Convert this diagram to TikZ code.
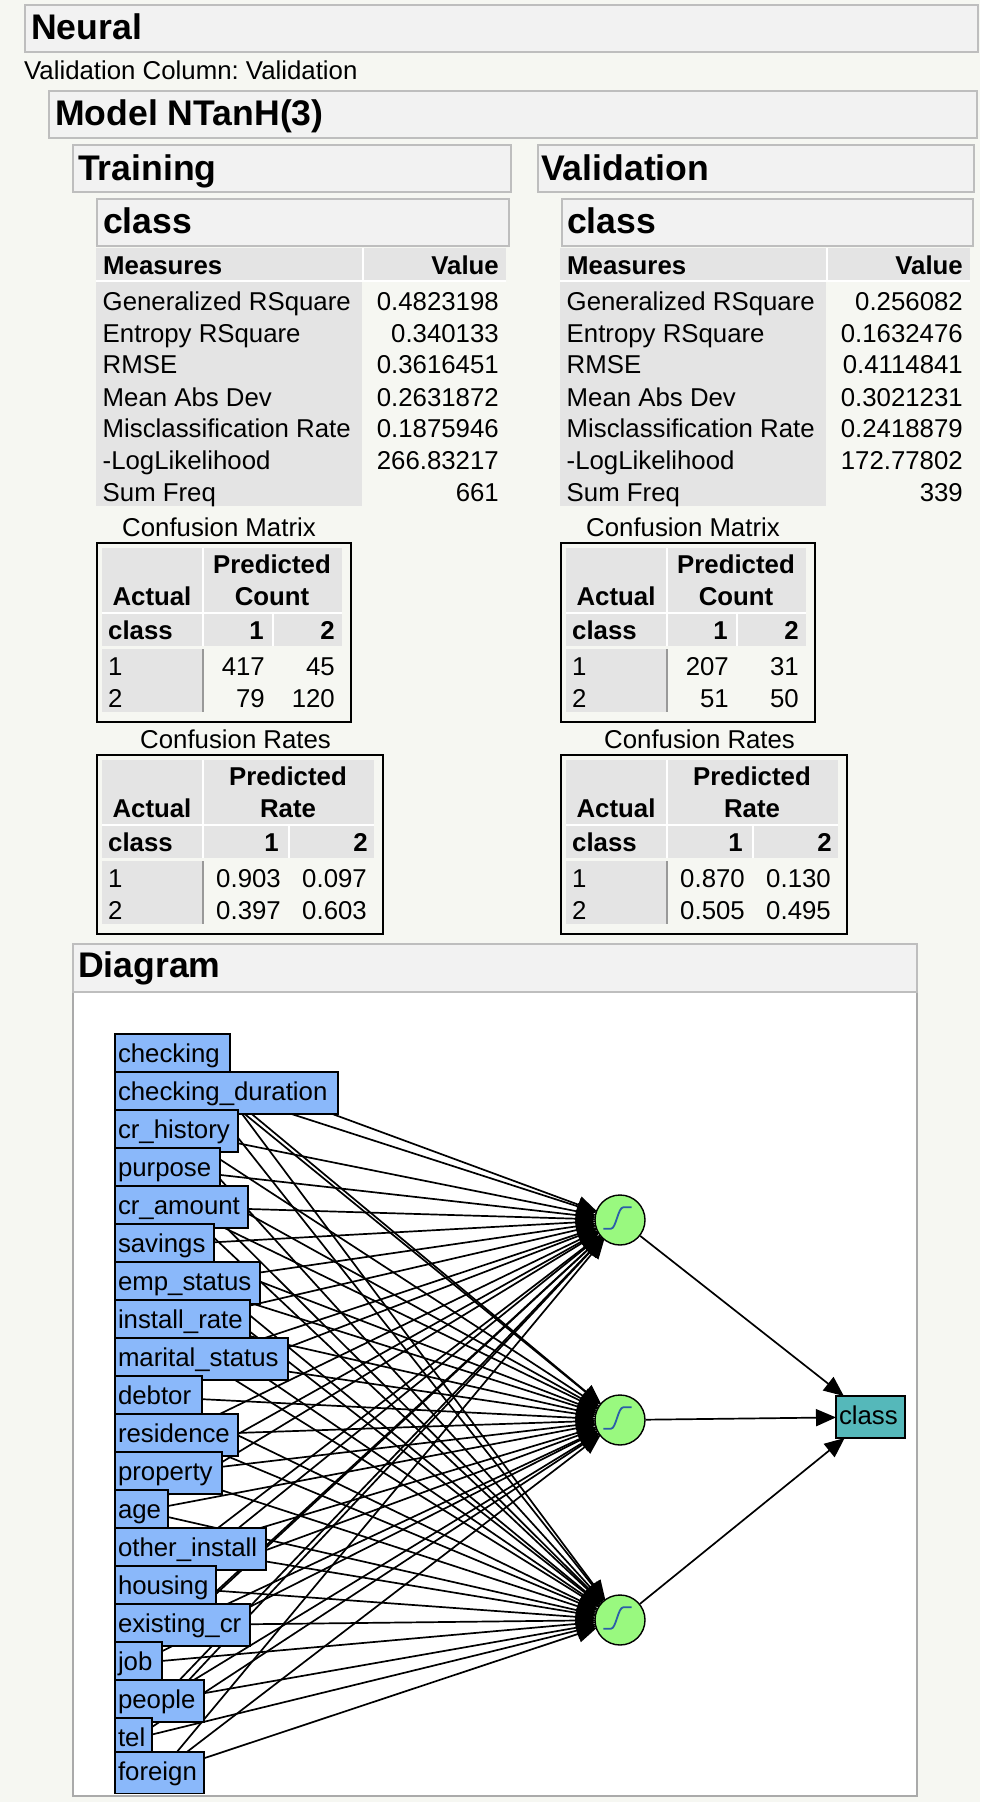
\documentclass[tikz,border=0pt]{standalone}
\usepackage{fontspec}
\setmainfont{Liberation Sans}
\usetikzlibrary{arrows.meta}
\pgfdeclarelayer{back}
\pgfdeclarelayer{edges}
\pgfsetlayers{back,edges,main}
\definecolor{pagebg}{HTML}{F6F7F2}
\definecolor{headfill}{HTML}{F2F2F2}
\definecolor{headline}{HTML}{BEBEBE}
\definecolor{cellgray}{HTML}{E4E4E4}
\definecolor{barline}{HTML}{999999}
\definecolor{framegray}{HTML}{AAAAAA}
\definecolor{inputblue}{HTML}{8AB8FA}
\definecolor{hiddengreen}{HTML}{99F97F}
\definecolor{outputteal}{HTML}{55B8BA}
\definecolor{curveblue}{HTML}{2B5EA8}
\newcommand{\bodyfont}{\fontsize{25.8}{30}\selectfont\frenchspacing}
\newcommand{\boldfont}{\fontsize{25.8}{30}\selectfont\bfseries}
\newcommand{\headfont}{\fontsize{35.6}{40}\selectfont\bfseries}
\tikzset{
  headbox/.style={draw=headline,fill=headfill,line width=2pt},
  cell/.style={fill=cellgray},
  lbl/.style={anchor=base west,inner sep=0pt,font=\bodyfont},
  val/.style={anchor=base east,inner sep=0pt,font=\bodyfont},
  boldl/.style={anchor=base west,inner sep=0pt,font=\boldfont},
  boldr/.style={anchor=base east,inner sep=0pt,font=\boldfont},
  boldc/.style={anchor=base,inner sep=0pt,font=\boldfont},
  headtext/.style={anchor=base west,inner sep=0pt,font=\headfont},
  blackbox/.style={draw=black,line width=2pt},
  vnode/.style={draw=black,line width=2pt,anchor=north west,align=left,font=\bodyfont,outer sep=0pt,
    inner xsep=3pt,inner ysep=0pt,text height=28pt,text depth=14pt},
  hidden/.style={circle,draw=black,line width=1.4pt,fill=hiddengreen,minimum size=50pt,inner sep=0pt},
  edge/.style={draw=black,line width=1.7pt,-{Triangle[length=20pt,width=17pt]}},
  sigcurve/.style={draw=curveblue,line width=1.8pt},
}
\newcommand{\MeasureTable}[9]{%
  \begin{scope}[xshift=#2pt]
    \fill[white] (96,280) rectangle (506,282);
    \fill[white] (362,248) rectangle (364,280);
    \fill[cell] (96,248) rectangle (362,280);
    \fill[cell] (364,248) rectangle (506,280);
    \fill[cell] (96,282) rectangle (362,506);
    \node[boldl] (#1-mh) at (103,274) {Measures};
    \node[boldr] (#1-vh) at (499,274) {Value};
    \foreach \rowid/\rowlab/\rowbase/\rowval in {a/Generalized RSquare/310/#3,b/Entropy RSquare/342/#4,c/RMSE/373/#5,d/Mean Abs Dev/406/#6,e/Misclassification Rate/437/#7,f/-LogLikelihood/469/#8,g/Sum Freq/501/#9}{
      \node[lbl] (#1-\rowid-l) at (102.5,\rowbase) {\rowlab};
      \node[val] (#1-\rowid-v) at (499,\rowbase) {\rowval};
    }
  \end{scope}}
\begin{document}
\begin{tikzpicture}[x=1pt,y=-1pt]
\useasboundingbox (0,0) rectangle (980,1802);
\begin{pgfonlayer}{back}
  \fill[pagebg] (0,0) rectangle (980,1802);
  \draw[headbox] (25,5) rectangle (978,52);
  \draw[headbox] (49,91) rectangle (977,138);
  \draw[headbox] (73,145) rectangle (511,192);
  \draw[headbox] (97,199) rectangle (509,246);
  \draw[headbox] (537.5,145) rectangle (974,192);
  \draw[headbox] (561.5,199) rectangle (973,246);
  \draw[draw=framegray,line width=2pt,fill=white] (73,992) rectangle (917,1796);
  \draw[headbox] (73,944) rectangle (917,992);
\end{pgfonlayer}

\node[headtext] (neural) at (31,39) {Neural};
\node[lbl] (valcol) at (24,79) {Validation Column: Validation};
\node[headtext] (model) at (55,125) {Model NTanH(3)};
\node[headtext] (training) at (78,180) {Training};
\node[headtext] (classT) at (103,233) {class};
\node[headtext] (validation) at (541,180) {Validation};
\node[headtext] (classV) at (567,233) {class};
\node[headtext] (diagram) at (78,977) {Diagram};

\MeasureTable{tr}{0}{0.4823198}{0.340133}{0.3616451}{0.2631872}{0.1875946}{266.83217}{661}
\MeasureTable{va}{464}{0.256082}{0.1632476}{0.4114841}{0.3021231}{0.2418879}{172.77802}{339}

% confusion tables
\foreach \pfx/\dxx/\dyy/\ttl/\tix/\boxr/\hdr/\splt/\ctr/\lone/\ltwo/\wordd/\cola/\colb/\vala/\valb/\valc/\vald in {
  tm/0/0/Confusion Matrix/122/352/342/272/272/264/335/Count/265/335/417/45/79/120,
  tq/0/212/Confusion Rates/140/384/374/288/288/279/368/Rate/281/367/0.903/0.097/0.397/0.603,
  vm/464/0/Confusion Matrix/122/352/342/272/272/264/335/Count/265/335/207/31/51/50,
  vq/464/212/Confusion Rates/140/384/374/288/288/279/368/Rate/281/367/0.870/0.130/0.505/0.495}{
  \begin{scope}[xshift=\dxx pt,yshift=-\dyy pt]
    \node[lbl] (\pfx-title) at (\tix,536) {\ttl};
    \draw[blackbox] (97,543) rectangle (\boxr-1,722);
    \fill[white] (202,548) rectangle (204,646);
    \fill[white] (102,612) rectangle (\hdr,614);
    \fill[white] (\splt,614) rectangle (\splt+2,646);
    \fill[cell] (102,548) rectangle (202,612);
    \fill[cell] (204,548) rectangle (\hdr,612);
    \fill[cell] (102,614) rectangle (202,646);
    \fill[cell] (204,614) rectangle (\splt,646);
    \fill[cell] (\splt+2,614) rectangle (\hdr,646);
    \fill[cell] (102,649) rectangle (202,712);
    \fill[barline] (202,649) rectangle (204,712);
    \node[boldc] (\pfx-pred) at (\ctr,573) {Predicted};
    \node[boldc] (\pfx-word) at (\ctr,605) {\wordd};
    \node[boldc] (\pfx-act) at (152,605) {Actual};
    \node[boldl] (\pfx-cls) at (108,639) {class};
    \node[boldr] (\pfx-one) at (\lone,639) {1};
    \node[boldr] (\pfx-two) at (\ltwo,639) {2};
    \node[lbl] (\pfx-r1) at (108,675) {1};
    \node[lbl] (\pfx-r2) at (108,707) {2};
    \node[val] (\pfx-a) at (\cola,675) {\vala};
    \node[val] (\pfx-b) at (\colb,675) {\valb};
    \node[val] (\pfx-c) at (\cola,707) {\valc};
    \node[val] (\pfx-d) at (\colb,707) {\vald};
  \end{scope}
}

% network nodes
\begin{scope}
  \clip (0,0) rectangle (980,1793);
  \foreach \idx/\ntop/\nright/\ntxt in {
    1/1033/231/checking,2/1071/339/checking\_duration,3/1109/239/cr\_history,
    4/1147/221/purpose,5/1185/249/cr\_amount,6/1223/215/savings,7/1261/261/emp\_status,
    8/1299/251/install\_rate,9/1337/289/marital\_status,10/1375/203/debtor,
    11/1413/239/residence,12/1451/223/property,13/1489/169/age,14/1527/267/other\_install,
    15/1565/217/housing,16/1603/251/existing\_cr,17/1641/163/job,18/1679/205/people,
    19/1717/153/tel,20/1751/205/foreign}{
    \pgfmathsetmacro{\nwide}{\nright-114-8}
    \node[vnode,fill=inputblue,text width=\nwide pt] (n\idx) at (115,\ntop+1) {\ntxt};
  }
\end{scope}
\node[hidden] (h1) at (620,1220) {};
\node[hidden] (h2) at (620,1420) {};
\node[hidden] (h3) at (620,1620) {};
\node[vnode,fill=outputteal,text width=63pt] (out) at (836,1396) {class};

\foreach \hn in {h1,h2,h3}{
  \draw[sigcurve] ([shift={(-16.7,8.7)}]\hn.center) -- ([shift={(-9,8.7)}]\hn.center)
    .. controls ([shift={(-4,8.7)}]\hn.center) and ([shift={(-2,-12.7)}]\hn.center) .. ([shift={(3.3,-12.7)}]\hn.center)
    -- ([shift={(11.7,-12.7)}]\hn.center);
}
\begin{pgfonlayer}{edges}
  \foreach \idx in {1,...,20}{
    \foreach \hn in {h1,h2,h3}{
      \draw[edge,shorten >=-1.5pt] (n\idx) -- (\hn);
    }
  }
  \foreach \hn in {h1,h2,h3}{
    \draw[edge] (\hn) -- (out);
  }
\end{pgfonlayer}
\end{tikzpicture}
\end{document}
